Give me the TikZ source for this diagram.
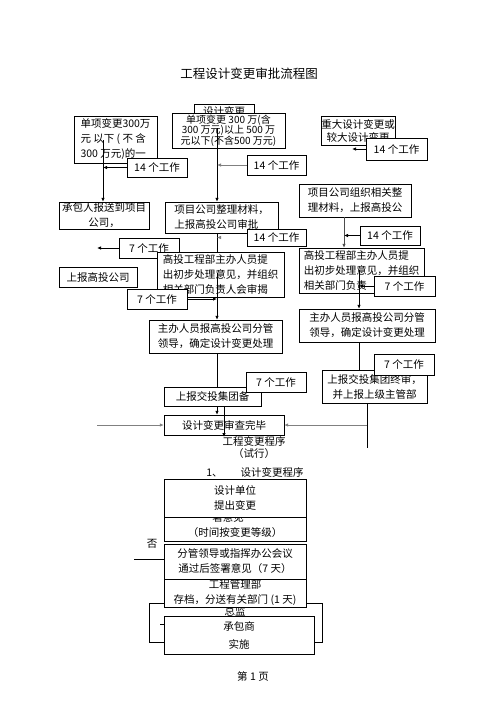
\documentclass[tikz,border=0pt]{standalone}
\usepackage{fontspec}
\setmainfont{Noto Sans CJK SC}
\usetikzlibrary{arrows.meta,positioning,calc}
\tikzset{
    semithick,
    box/.style={draw, fill=white, inner sep=0pt, align=center, font=\fontsize{10.5}{15}\selectfont},
    lbl/.style={draw, fill=white, inner sep=0pt, font=\fontsize{10.5}{13}\selectfont},
    plain/.style={inner sep=0pt, font=\fontsize{10.5}{13}\selectfont},
    boxsize/.style 2 args={minimum width=#1pt, minimum height=#2pt},
    flow/.style={-{Latex[length=4pt,width=3.5pt]}, line width=0.9pt},
    greyflow/.style={flow, draw=black!50},
    link/.style={line width=0.9pt}
}
\begin{document}
\begin{tikzpicture}[x=1pt,y=-1pt]
    \useasboundingbox (0,0) rectangle (496,702);
    \node[font=\fontsize{12.5}{14}\selectfont] (title) at (249,74) {工程设计变更审批流程图};
    % Three kinds of change
    \node[box, boxsize={60}{14}] (apply) at (224,111) {设计变更};
    \node[box, boxsize={113}{35}, font=\fontsize{10}{10.5}\selectfont] (medium) at (228.5,130.5)
        {单项变更 300 万(含\\300 万元)以上 500 万\\元以下(不含500 万元)};
    \node[box, align=left, boxsize={83}{47}] (small) at (115.5,139.5)
        {单项变更300万\\元 以下 ( 不 含\\300 万元)的一};
    \node[box, boxsize={72}{29}, font=\fontsize{10.5}{13}\selectfont] (major) at (358,130.5)
        {重大设计变更或\\较大设计变更};
    % Drop lines from the first row
    \coordinate (smallDrop) at (103,140);
    \coordinate (mediumDrop) at (217,128);
    \coordinate (majorEnd) at (352,152);
    \node[box, boxsize={90}{27}] (contractor) at (104,215.5) {承包人报送到项目\\公司，};
    \node[box, align=left, boxsize={113}{31}] (collect) at (221.5,217.5) {项目公司整理材料，\\上报高投公司审批};
    \node[box, boxsize={112}{33}] (organize) at (355,200.5) {项目公司组织相关整\\理材料，上报高投公};
    \draw[flow] (smallDrop) -- (smallDrop |- contractor.north);
    \draw[flow] (mediumDrop) -- (mediumDrop |- collect.north);
    % Time limits
    \node[lbl, boxsize={60}{19}] (wSmall) at (157,167.5) {14 个工作};
    \node[lbl, boxsize={59}{20}] (wMedium) at (276.5,165) {14 个工作};
    \node[lbl, boxsize={61}{22}] (wMajor) at (396.5,149) {14 个工作};
    \draw[flow] (wSmall.west) -- (wSmall.west -| smallDrop);
    \draw[greyflow] (wMedium.west) -- (wMedium.west -| mediumDrop);
    \draw[flow] (wMajor.west) -- (wMajor.west -| majorEnd);
    % Middle column
    \coordinate (reviewDrop) at (217,273);
    \draw[link] (collect.south -| mediumDrop) -- ++(0,20);
    \node[lbl, boxsize={59}{17}] (wCollect) at (276.5,237.5) {14 个工作};
    \draw[greyflow, double, line width=0.5pt] (wCollect.west) -- (wCollect.west -| mediumDrop);
    \node[lbl, boxsize={60}{20}] (wReport) at (149,248) {7 个工作};
    \coordinate (reportEnd) at (97,246);
    \draw[flow] (wReport.west) -- (wReport.west -| reportEnd);
    \node[box, align=left, boxsize={127}{45}] (review) at (220.5,274.5)
        {高投工程部主办人员提\\出初步处理意见，并组织\\相关部门负责人会审揭};
    \node[box, boxsize={78}{20}] (report) at (98,277) {上报高投公司};
    \node[box, boxsize={133}{33}] (leader) at (215.5,336.5) {主办人员报高投公司分管\\领导，确定设计变更处理};
    \draw[flow] (reviewDrop) -- (reviewDrop |- leader.north);
    \node[lbl, boxsize={60}{20}] (wReview) at (157,299) {7 个工作};
    \draw[flow] (wReview.east) -- (wReview.east -| reviewDrop);
    % Right column
    \coordinate (organizeDrop) at (344,217);
    \coordinate (reviewRDrop) at (359,270);
    \node[box, align=left, boxsize={125}{45}] (reviewR) at (361.5,270.5)
        {高投工程部主办人员提\\出初步处理意见，并组织\\相关部门负责};
    \draw[flow, draw=black!70] (organizeDrop) -- (organizeDrop |- reviewR.north);
    \node[lbl, boxsize={60}{19}] (wOrganize) at (390,235.5) {14 个工作};
    \draw[flow] (wOrganize.west) -- (wOrganize.west -| organizeDrop);
    \node[box, boxsize={136}{33}] (leaderR) at (367,325.5) {主办人员报高投公司分管\\领导，确定设计变更处理};
    \draw[flow] (reviewRDrop) -- (reviewRDrop |- leaderR.north);
    \node[lbl, boxsize={61}{20}] (wReviewR) at (404.5,286) {7 个工作};
    \draw[flow] (wReviewR.west) -- (wReviewR.west -| reviewRDrop);
    \node[box, boxsize={105}{33}] (final) at (374.5,386.5) {上报交投集团终审，\\并上报上级主管部};
    \draw[link] (leaderR.south -| reviewRDrop) -- (final.north -| reviewRDrop);
    \node[lbl, boxsize={60}{21}] (wFinal) at (404,364.5) {7 个工作};
    % Filing and end of review
    \node[box, boxsize={97}{19}] (file) at (212.5,396.5) {上报交投集团备};
    \draw[link] (leader.south -| reviewDrop) -- (file.north -| reviewDrop);
    \node[lbl, boxsize={60}{20}] (wFile) at (276,382) {7 个工作};
    \node[plain] (rules) at (254,441) {工程变更程序};
    \node[box, boxsize={120}{20}] (done) at (224,425) {设计变更审查完毕};
    \coordinate (fileDrop) at (224,437);
    \coordinate (leftIn) at (97,425);
    \coordinate (finalDrop) at (367,448);
    \draw[flow] (file.south -| reviewDrop) -- (done.north -| reviewDrop);
    \draw[flow] (file.south -| fileDrop) -- (fileDrop);
    \draw[greyflow] (leftIn) -- (done.west);
    \draw[link] (final.south -| finalDrop) -- (finalDrop);
    \draw[greyflow] (finalDrop |- done.east) -- (done.east);
    % Design change procedure
    \node[plain] (trial) at (254,454) {（试行）};
    \node[plain] (heading) at (255,472) {1、\hspace{18pt}设计变更程序};
    \node[box, boxsize={142}{24}] (opinion) at (235,529) {\\（时间按变更等级）};
    \node[plain] (opinionTop) at (228,517.5) {署意见};
    \node[box, boxsize={142}{38}] (design) at (235,498) {设计单位\\提出变更};
    \node[plain] (no) at (152,544) {否};
    \node[box, boxsize={142}{35}] (approve) at (235,561.5) {分管领导或指挥办公会议\\通过后签署意见（7 天）};
    \coordinate (noEnd) at (134,559);
    \draw (noEnd) -- (noEnd -| approve.west);
    \node[draw, boxsize={173}{39}] (loop) at (235.5,622.5) {};
    \node[plain] (supervisor) at (235,611) {总监};
    \node[box, boxsize={142}{28}] (archive) at (235,593) {工程管理部\\存档，分送有关部门 (1 天)};
    \node[box, boxsize={150}{38}, font=\fontsize{10.5}{18}\selectfont] (build) at (239,635) {承包商\\实施};
    \coordinate (dash) at (160,624);
    \draw (dash) -- (dash -| build.west);
    \node[plain] (page) at (253,676) {第 1 页};
\end{tikzpicture}
\end{document}
